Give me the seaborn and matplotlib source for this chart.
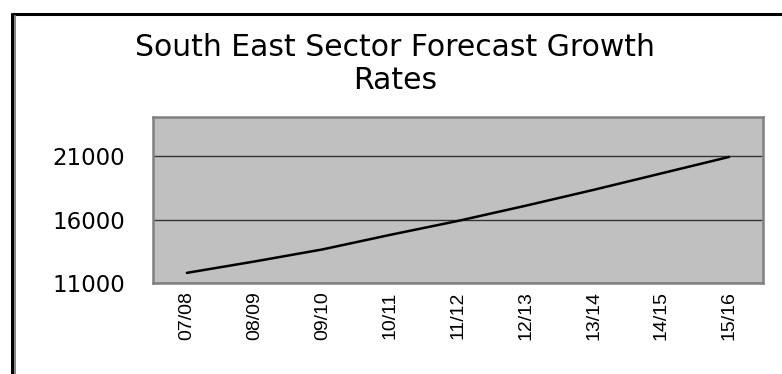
import matplotlib
matplotlib.use("Agg")
import matplotlib.pyplot as plt
from matplotlib.lines import Line2D
import seaborn as sns
import pandas as pd

years = ["07/08", "08/09", "09/10", "10/11", "11/12", "12/13", "13/14", "14/15", "15/16"]
values = [11800, 12700, 13650, 14800, 15900, 17100, 18350, 19650, 20950]
y_ticks = [11000, 16000, 21000]
title = "South East Sector Forecast Growth\nRates"

df = pd.DataFrame({"year": years, "value": values})

sns.set_theme(style="white")
plt.rcParams["font.family"] = ["Liberation Sans", "DejaVu Sans"]
plt.rcParams["text.color"] = "black"

fig = plt.figure(figsize=(7.82, 3.74), dpi=100)
ax = fig.add_axes([153 / 782, 1 - 283 / 374, 610 / 782, 166 / 374])
ax.set_facecolor("#C0C0C0")

sns.lineplot(data=df, x="year", y="value", ax=ax, color="black", linewidth=1.8, sort=False)

ax.set_xlim(-0.5, len(years) - 0.5)
ax.set_ylim(11000, 24100)
ax.set_yticks(y_ticks)
ax.set_yticklabels([str(v) for v in y_ticks], family=["DejaVu Sans"])
ax.set_xticks(range(len(years)))
ax.set_xticklabels(years, rotation=90)
ax.tick_params(axis="y", length=0, pad=20, labelsize=16.5, labelcolor="black")
ax.tick_params(axis="x", length=0, pad=6, labelsize=14, labelcolor="black")
ax.set_xlabel("")
ax.set_ylabel("")
ax.grid(axis="y", color="#333333", linewidth=1.0)
ax.grid(axis="x", visible=False)
ax.set_axisbelow(True)
for s in ax.spines.values():
    s.set_color("#808080")
    s.set_linewidth(1.8)

fig.text(395 / 782, 1 - 64 / 374, title, ha="center", va="center", fontsize=21.5,
         family=["DejaVu Sans"], color="black", linespacing=1.18)

# outer frame
W, H = 782, 374
fig.add_artist(Line2D([11 / W, 1], [1 - 14 / H, 1 - 14 / H], color="black", linewidth=2.2,
                      transform=fig.transFigure, solid_capstyle="butt"))
fig.add_artist(Line2D([12 / W, 12 / W], [0, 1 - 13 / H], color="black", linewidth=2.2,
                      transform=fig.transFigure, solid_capstyle="butt"))
fig.add_artist(Line2D([14.8 / W, 14.8 / W], [0, 1 - 15 / H], color="#707070", linewidth=1.2,
                      transform=fig.transFigure, solid_capstyle="butt"))

fig.savefig("out.png", dpi=100)
